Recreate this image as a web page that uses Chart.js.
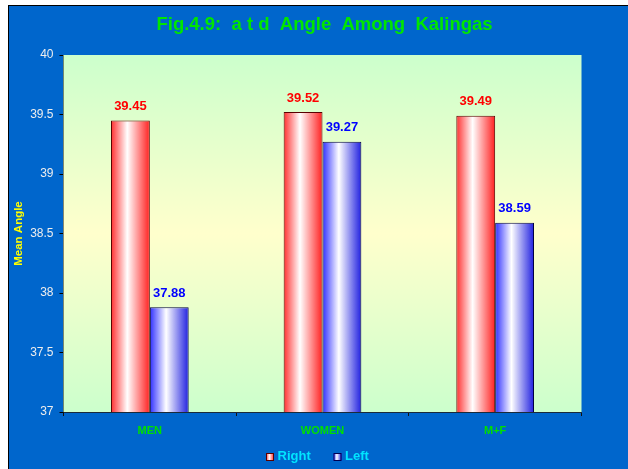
<!DOCTYPE html>
<html>
<head>
<meta charset="utf-8">
<script src="https://cdn.jsdelivr.net/npm/chart.js@4"></script>
<style>
  html, body { margin: 0; padding: 0; background: #ffffff; }
  #frame {
    position: absolute; left: 8px; top: 5px;
    width: 619px; height: 463px;
    border-left: 1px solid #000; border-top: 1px solid #000;
    background: #0066cc; overflow: hidden;
  }
  canvas { display: block; }
</style>
</head>
<body>
<div id="frame"><canvas id="myChart" width="619" height="463"></canvas></div>
<script>
// data
let groups = ['MEN', 'WOMEN', 'M+F']
let rightAngle = [39.45, 39.52, 39.49]
let leftAngle = [37.88, 39.27, 38.59]
let yTicks = [37, 37.5, 38, 38.5, 39, 39.5, 40]
let seriesNames = ['Right', 'Left']

let titleText = 'Fig.4.9:  a t d  Angle  Among  Kalingas'
let redStops = ['#ff2e2e', '#ffffff', '#ff2020']
let blueStops = ['#2e2eff', '#ffffff', '#2020e0']
let catPct = 0.45

function stripe(c, x, w, stops) {
    let g = c.createLinearGradient(x, 0, x + w, 0);
    g.addColorStop(0, stops[0]);
    g.addColorStop(0.42, stops[1]);
    g.addColorStop(1, stops[2]);
    return g;
}

function barFill(context) {
    let stops = context.datasetIndex === 0 ? redStops : blueStops;
    let chart = context.chart;
    let xs = chart.scales.x;
    if (context.type !== 'data' || !xs) return stops[0];
    let w = xs.width / groups.length * catPct / 2;
    let c = xs.getPixelForValue(context.dataIndex);
    let left = context.datasetIndex === 0 ? c - w : c;
    if (!isFinite(left) || !isFinite(w) || w <= 0) return stops[0];
    return stripe(chart.ctx, left, w, stops);
}

// background of the plot, value labels, title and legend
const decor = {
    id: 'decor',
    beforeDatasetsDraw(chart) {
        let a = chart.chartArea;
        let c = chart.ctx;
        let g = c.createLinearGradient(0, a.top, 0, a.bottom);
        g.addColorStop(0, '#ccffcc');
        g.addColorStop(0.5, '#ffffcc');
        g.addColorStop(1, '#ccffcc');
        c.save();
        c.fillStyle = g;
        c.fillRect(a.left, a.top, a.right - a.left, a.bottom - a.top);
        c.restore();
    },
    afterDatasetsDraw(chart) {
        let c = chart.ctx;
        c.save();
        c.font = 'bold 13px Arial, "Liberation Sans", sans-serif';
        c.textAlign = 'center';
        c.textBaseline = 'middle';
        chart.data.datasets.forEach(function (ds, i) {
            c.fillStyle = i === 0 ? '#ff0000' : '#0000ff';
            chart.getDatasetMeta(i).data.forEach(function (bar, j) {
                c.fillText(ds.data[j].toFixed(2), bar.x, bar.y - 14);
            });
        });
        c.restore();
    },
    afterDraw(chart) {
        let c = chart.ctx;
        c.save();
        // title
        c.font = 'bold 18.5px Arial, "Liberation Sans", sans-serif';
        c.fillStyle = '#00e600';
        c.textAlign = 'center';
        c.textBaseline = 'alphabetic';
        c.fillText(titleText, 315.5, 24);
        // legend
        let items = [
            { x: 257, text: seriesNames[0], stops: redStops, edge: '#5a0000' },
            { x: 324.5, text: seriesNames[1], stops: blueStops, edge: '#000050' }
        ];
        c.font = 'bold 13px Arial, "Liberation Sans", sans-serif';
        c.textAlign = 'left';
        c.textBaseline = 'middle';
        items.forEach(function (it) {
            c.fillStyle = stripe(c, it.x, 8, it.stops);
            c.fillRect(it.x, 447, 8, 8);
            c.strokeStyle = it.edge;
            c.lineWidth = 1;
            c.strokeRect(it.x + 0.5, 447.5, 7, 7);
            c.fillStyle = '#00e5ff';
            c.fillText(it.text, it.x + 11.5, 450);
        });
        c.restore();
    }
};

const ctx = document.getElementById('myChart').getContext('2d');
let myChart = new Chart(ctx, {
    type: 'bar',
    data: {
        labels: groups,
        datasets: [{
            label: seriesNames[0],
            data: rightAngle,
            backgroundColor: barFill,
            borderColor: '#5a0000',
            borderWidth: 1,
            borderSkipped: 'bottom'
        }, {
            label: seriesNames[1],
            data: leftAngle,
            backgroundColor: barFill,
            borderColor: '#000040',
            borderWidth: 1,
            borderSkipped: 'bottom'
        }]
    },
    options: {
        responsive: false,
        animation: false,
        layout: { padding: { top: 49, right: 46.5, left: 0, bottom: 0 } },
        datasets: { bar: { categoryPercentage: catPct, barPercentage: 1 } },
        plugins: {
            legend: { display: false },
            title: { display: false },
            tooltip: { enabled: false }
        },
        scales: {
            x: {
                grid: { offset: true, drawOnChartArea: false, drawTicks: true, tickLength: 4, color: '#111111' },
                border: { display: true, color: '#1a2a3a', width: 1 },
                ticks: {
                    color: '#00e000',
                    padding: 8,
                    font: { family: 'Arial, "Liberation Sans", sans-serif', size: 11, weight: 'bold' }
                },
                afterFit(scale) { scale.height = 57; }
            },
            y: {
                min: 37,
                max: 40,
                afterBuildTicks(scale) { scale.ticks = yTicks.map(v => ({ value: v })); },
                grid: { drawOnChartArea: false, drawTicks: true, tickLength: 4, color: '#000000' },
                border: { display: true, color: '#111111', width: 1 },
                ticks: {
                    color: '#eeeeee',
                    padding: 6,
                    font: { family: 'Arial, "Liberation Sans", sans-serif', size: 12 },
                    callback: v => String(v)
                },
                title: {
                    display: true,
                    text: 'Mean Angle',
                    color: '#ffff00',
                    padding: { top: 3, bottom: 0 },
                    font: { family: 'Arial, "Liberation Sans", sans-serif', size: 11.5, weight: 'bold' }
                },
                afterFit(scale) { scale.width = 54.5; }
            }
        }
    },
    plugins: [decor]
});
// second pass so the bar gradients see the finished scale layout
myChart.update();
</script>
</body>
</html>
